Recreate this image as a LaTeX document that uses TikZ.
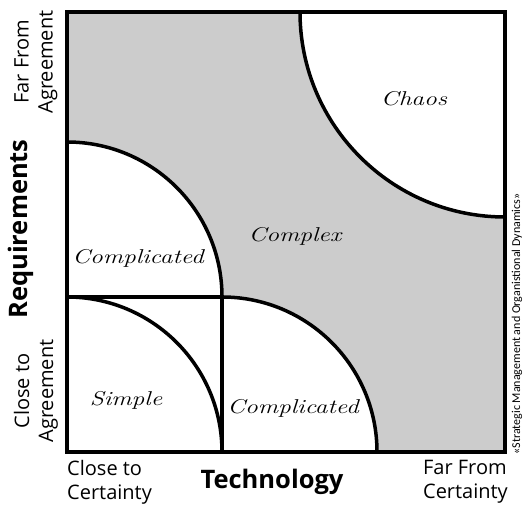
\documentclass[tikz,border=0pt]{standalone}
\usepackage{fontspec}
\newfontfamily\labelfont{Open Sans}
\newfontfamily\creditfont{Carlito}
\definecolor{zonegray}{HTML}{CCCCCC}
\begin{document}
\begin{tikzpicture}[x=1pt,y=1pt,
  edge/.style={line width=3.5pt},
  border/.style={line width=4pt},
  axislbl/.style={font=\labelfont\fontsize{20}{24}\selectfont, align=center, inner sep=0pt},
  axistitle/.style={font=\labelfont\bfseries\fontsize{25.5}{28}\selectfont, inner sep=0pt},
  zonelbl/.style={font=\itshape\fontsize{20}{22}\selectfont, inner sep=0pt, xscale=1.27, transform shape},
  credit/.style={font=\creditfont\fontsize{12}{13}\selectfont, inner sep=0pt}]
\useasboundingbox (0,0) rectangle (530,513);
\fill[white] (0,0) rectangle (530,513);
% key points
\coordinate (BL) at (67,61);
\coordinate (TR) at (505,501);
\coordinate (M) at (222,216);
% gray background
\fill[zonegray] (BL) rectangle (TR);
% white zones
\fill[white] (BL) rectangle (M);
\fill[white] (67,216) -- (222,216) arc[start angle=0, end angle=90, radius=155] -- cycle;
\fill[white] (222,61) -- (377,61) arc[start angle=0, end angle=90, radius=155] -- cycle;
\fill[white] (505,501) -- (300,501) arc[start angle=180, end angle=270, radius=205] -- cycle;
% boundaries
\draw[edge] (M) arc[start angle=0, end angle=90, radius=155];
\draw[edge] (67,216) arc[start angle=90, end angle=0, radius=155];
\draw[edge] (M) arc[start angle=90, end angle=0, radius=155];
\draw[edge] (300,501) arc[start angle=180, end angle=270, radius=205];
\draw[edge] (67,216) -- (M) -- (222,61);
\draw[border] (BL) rectangle (TR);
% zone labels
\node[zonelbl] (chaos) at (414,414) {Chaos};
\node[zonelbl] (complex) at (295,277) {Complex};
\node[zonelbl] (compA) at (138,255) {Complicated};
\node[zonelbl] (simple) at (126,113) {Simple};
\node[zonelbl] (compB) at (293,105) {Complicated};
% axis labels
\node[axislbl, rotate=90] (farA) at (36,451) {Far From\\Agreement};
\node[axislbl, rotate=90] (closeA) at (36,122) {Close to\\Agreement};
\node[axistitle, rotate=90] (req) at (21,284) {Requirements};
\node[axislbl, align=left, anchor=west] (closeC) at (67,31) {Close to\\Certainty};
\node[axislbl, align=left, anchor=east] (farC) at (508,31) {Far From\\Certainty};
\node[axistitle] (tech) at (272,31) {Technology};
\node[credit, rotate=90] (cred) at (517,189) {\guillemotleft Strategic Management and Organistional Dynamics\guillemotright};
\end{tikzpicture}
\end{document}
